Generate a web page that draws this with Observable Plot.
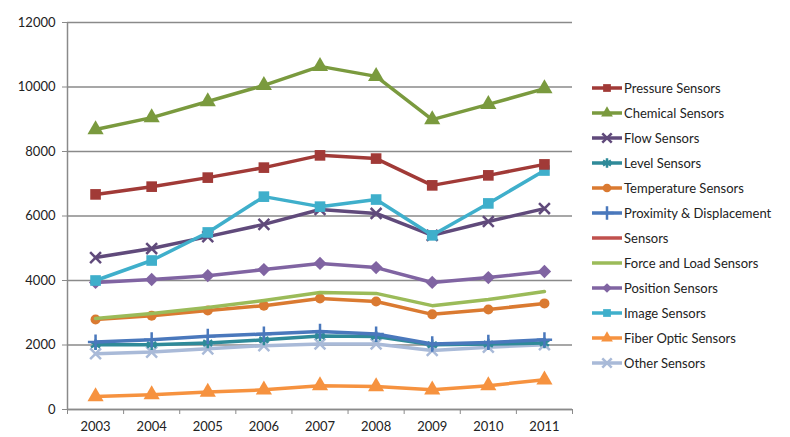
<!DOCTYPE html>
<html>
<head>
<meta charset="utf-8">
<script src="https://cdn.jsdelivr.net/npm/d3@7"></script>
<script src="https://cdn.jsdelivr.net/npm/@observablehq/plot@0.6"></script>
<style>
  html, body { margin: 0; padding: 0; background: #fff; }
  #wrap { position: relative; width: 790px; height: 437px; font-family: Lato, "Open Sans", sans-serif; }
  #legend { position: absolute; left: 591px; top: 75px; }
  .item { display: flex; align-items: center; height: 25px; font-size: 13px; color: #222; white-space: nowrap; }
  .item svg { margin-right: 1px; }
</style>
</head>
<body>
<div id="wrap"><div id="chart"></div><div id="legend"></div></div>
<script>
const years = [2003, 2004, 2005, 2006, 2007, 2008, 2009, 2010, 2011];
const yTicks = [0, 2000, 4000, 6000, 8000, 10000, 12000];

const seriesNames = ["Pressure Sensors", "Chemical Sensors", "Flow Sensors", "Level Sensors",
  "Temperature Sensors", "Proximity & Displacement", "Sensors", "Force and Load Sensors",
  "Position Sensors", "Image Sensors", "Fiber Optic Sensors", "Other Sensors"];

const pressure    = [6670, 6910, 7190, 7500, 7880, 7780, 6950, 7260, 7600];
const chemical    = [8680, 9050, 9550, 10050, 10640, 10330, 8990, 9460, 9950];
const flow        = [4710, 4990, 5360, 5740, 6200, 6080, 5400, 5830, 6230];
const level       = [2010, 2010, 2060, 2160, 2280, 2260, 2010, 2030, 2060];
const temperature = [2790, 2910, 3070, 3220, 3440, 3350, 2950, 3100, 3290];
const proximity   = [2090, 2160, 2270, 2340, 2420, 2340, 2030, 2080, 2160];
const sensors     = [];
const force       = [2820, 2980, 3160, 3380, 3630, 3600, 3220, 3410, 3660];
const position    = [3940, 4030, 4150, 4340, 4530, 4400, 3940, 4090, 4280];
const image       = [4000, 4620, 5490, 6600, 6290, 6510, 5400, 6390, 7410];
const fiber       = [400, 460, 540, 610, 740, 710, 610, 740, 920];
const other       = [1730, 1780, 1880, 1980, 2030, 2030, 1830, 1930, 2010];

const seriesValues = [pressure, chemical, flow, level, temperature, proximity, sensors,
  force, position, image, fiber, other];
const colors = ["#A13A37", "#7A9A3E", "#604A7B", "#2F8A99", "#DA7A31", "#4A78BC", "#C0504D",
  "#9BBB59", "#8064A2", "#3FAFCB", "#F6923F", "#A9BAD8"];
const symbols = ["square", "triangle", "times", "asterisk", "circle", "plus", null,
  null, "diamond2", "square", "triangle", "times"];
const strokeSymbols = new Set(["times", "asterisk", "plus"]);

// draw order: lower series first, so the top series overlap like the reference
const order = [11, 10, 3, 5, 4, 7, 8, 2, 9, 0, 1];

const data = [];
for (const i of order) {
  seriesValues[i].forEach((v, j) => data.push({series: seriesNames[i], idx: i, year: years[j], value: v}));
}

const edges = [2002.5, ...years.map(y => y + 0.5)];

const marks = [
  Plot.gridY(yTicks, {stroke: "#8a8a8a", strokeOpacity: 1, strokeWidth: 1.5}),
  Plot.ruleX([2002.5], {stroke: "#8a8a8a", strokeWidth: 1.5}),
  Plot.axisY(yTicks, {tickSize: 5, tickPadding: 7, stroke: "#8a8a8a", tickFormat: d => String(d), label: null, fontSize: 13, fill: "#222"}),
  Plot.axisX(edges, {tickSize: 5, tickFormat: () => "", label: null, stroke: "#8a8a8a"}),
  Plot.axisX(years, {tickSize: 0, tickPadding: 12, tickFormat: d => String(d), label: null, fontSize: 13, fill: "#222"}),
  Plot.ruleY([0], {stroke: "#8a8a8a", strokeWidth: 1.5})
];

for (const i of order) {
  const sub = data.filter(d => d.idx === i);
  marks.push(Plot.line(sub, {x: "year", y: "value", stroke: colors[i], strokeWidth: 3.5}));
  const sym = symbols[i];
  if (sym) {
    if (strokeSymbols.has(sym)) {
      marks.push(Plot.dot(sub, {x: "year", y: "value", symbol: () => sym, stroke: colors[i], strokeWidth: 2.5, r: 5}));
    } else {
      marks.push(Plot.dot(sub, {x: "year", y: "value", symbol: () => sym, fill: colors[i], r: sym === "circle" ? 5 : 6}));
    }
  }
}

const chart = Plot.plot({
  width: 790,
  height: 437,
  marginLeft: 67,
  marginRight: 218,
  marginTop: 22,
  marginBottom: 28,
  x: {domain: [2002.5, 2011.5]},
  y: {domain: [0, 12000]},
  symbol: {type: "identity"},
  style: {fontFamily: "Lato, 'Open Sans', sans-serif", fontSize: "13px", background: "#fff"},
  marks
});
document.getElementById("chart").appendChild(chart);

// legend
const legend = d3.select("#legend");
seriesNames.forEach((name, i) => {
  const row = legend.append("div").attr("class", "item");
  const svg = row.append("svg").attr("width", 32).attr("height", 14);
  svg.append("line").attr("x1", 1).attr("x2", 31).attr("y1", 7).attr("y2", 7)
    .attr("stroke", colors[i]).attr("stroke-width", 3.5);
  const sym = symbols[i];
  if (sym) {
    const map = {square: d3.symbolSquare, triangle: d3.symbolTriangle, times: d3.symbolTimes,
      asterisk: d3.symbolAsterisk, circle: d3.symbolCircle, plus: d3.symbolPlus, diamond2: d3.symbolDiamond2};
    const path = d3.symbol(map[sym], 60)();
    const p = svg.append("path").attr("d", path).attr("transform", "translate(16,7)");
    if (strokeSymbols.has(sym)) p.attr("fill", "none").attr("stroke", colors[i]).attr("stroke-width", 2.5);
    else p.attr("fill", colors[i]);
  }
  row.append("span").text(name);
});
</script>
</body>
</html>
